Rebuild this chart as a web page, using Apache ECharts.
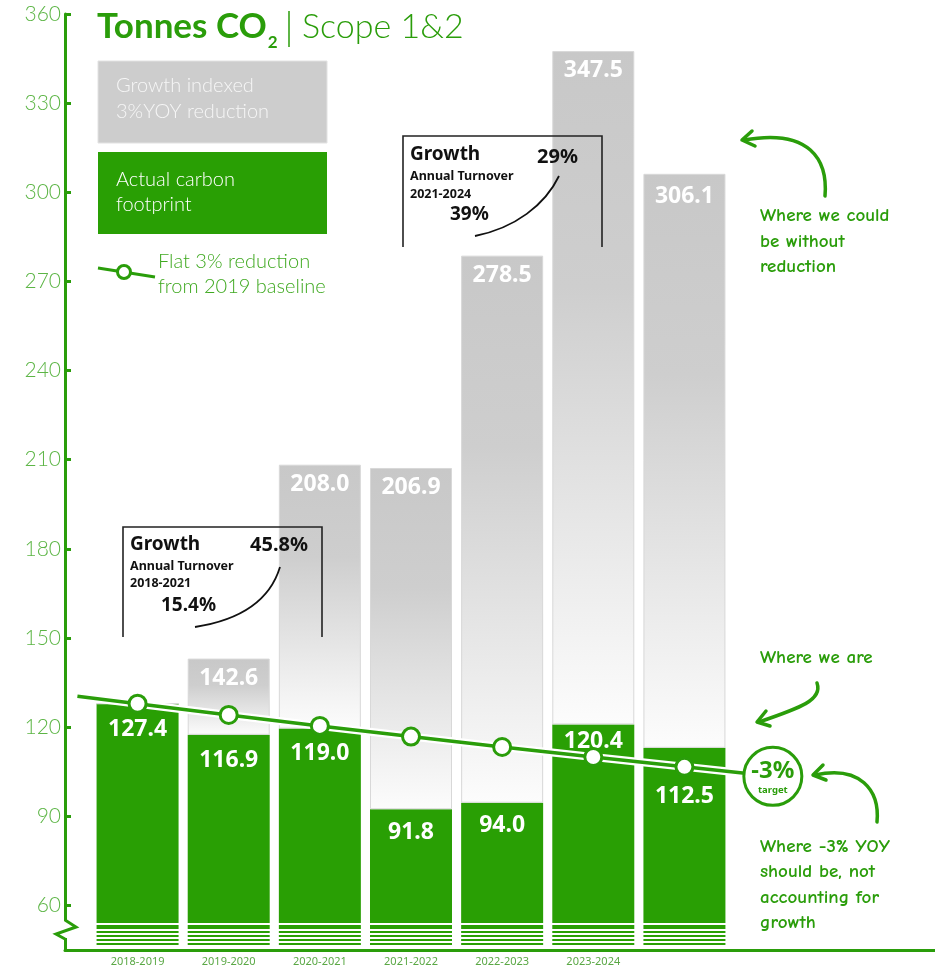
<!DOCTYPE html>
<html><head><meta charset="utf-8">
<script src="https://cdn.jsdelivr.net/npm/echarts@6/dist/echarts.min.js"></script>
<style>html,body{margin:0;padding:0;background:#fff}#c{width:935px;height:967px}</style>
</head><body><div id="c"></div>
<script>
// ---- data ----
const categories = ['2018-2019','2019-2020','2020-2021','2021-2022','2022-2023','2023-2024',''];
const actual = [127.4, 116.9, 119.0, 91.8, 94.0, 120.4, 112.5];
const growthIndexed = [127.4, 142.6, 208.0, 206.9, 278.5, 347.5, 306.1];
const flatReduction = [127.4, 123.6, 119.9, 116.3, 112.8, 109.4, 106.1];
const yTicks = [60, 90, 120, 150, 180, 210, 240, 270, 300, 330, 360];

// ---- styles ----
const G = '#2a9d0a';
const BAR = '#299f04';
const LIGHT = '#5cb545';
const greenLabelGap = [14, 14, 13, 12, 11, 6, 37];
const grayLabelGap = [8, 8, 8, 8, 8, 8, 11];

const chart = echarts.init(document.getElementById('c'), null, {renderer: 'canvas'});

const numFont = {color: '#fff', fontFamily: 'Noto Sans', fontWeight: 'bold', fontSize: 23};

const option = {
  animation: false,
  backgroundColor: '#fff',
  grid: [
    {left: 65, right: 0, top: 14, height: 936},
    {left: 92, width: 638, top: 14, height: 936}
  ],
  xAxis: [
    {gridIndex: 0, type: 'value', min: 0, max: 1,
     axisLine: {show: true, onZero: false, lineStyle: {color: G, width: 3}},
     axisTick: {show: false}, axisLabel: {show: false}, splitLine: {show: false}},
    {gridIndex: 1, type: 'category', data: categories,
     axisLine: {show: false}, axisTick: {show: false},
     axisLabel: {color: '#5aa845', fontSize: 11, fontFamily: 'Noto Sans', margin: 8}}
  ],
  yAxis: [
    {gridIndex: 0, type: 'value', min: 45, max: 360,
     axisLine: {show: true, onZero: false, lineStyle: {color: G, width: 3}},
     axisTick: {show: true, inside: true, length: 6, customValues: yTicks, lineStyle: {color: G, width: 3}},
     axisLabel: {customValues: yTicks, color: LIGHT, fontSize: 21, fontFamily: 'Lato', fontWeight: 300, margin: 4},
     splitLine: {show: false}},
    {gridIndex: 1, type: 'value', min: 45, max: 360, show: false, splitLine: {show: false}}
  ],
  series: [
    {
      name: 'Actual carbon footprint', type: 'bar', xAxisIndex: 1, yAxisIndex: 1,
      stack: 'a', barWidth: 82, z: 2,
      itemStyle: {color: BAR},
      data: actual.map((v, i) => ({value: v, label: {distance: greenLabelGap[i]}})),
      label: Object.assign({show: true, position: 'insideTop', formatter: p => p.value.toFixed(1)}, numFont)
    },
    {
      name: 'Growth indexed 3%YOY reduction', type: 'bar', xAxisIndex: 1, yAxisIndex: 1,
      stack: 'a', barWidth: 82, z: 2,
      itemStyle: {
        borderColor: '#d8d8d8', borderWidth: 1,
        color: {type: 'linear', x: 0, y: 0, x2: 0, y2: 1,
          colorStops: [{offset: 0, color: '#c8c8c8'}, {offset: 0.35, color: '#cecece'}, {offset: 1, color: '#fcfcfc'}]}
      },
      data: growthIndexed.map((v, i) => ({value: +(v - actual[i]).toFixed(1), label: {distance: grayLabelGap[i]}})),
      label: Object.assign({show: true, position: 'insideTop',
        formatter: p => (growthIndexed[p.dataIndex] > actual[p.dataIndex] ? growthIndexed[p.dataIndex].toFixed(1) : '')}, numFont)
    },
    {
      name: 'halo', type: 'line', xAxisIndex: 1, yAxisIndex: 1, z: 3, silent: true,
      data: flatReduction, symbol: 'none', lineStyle: {color: '#fff', width: 8}
    },
    {
      name: 'Flat 3% reduction from 2019 baseline', type: 'line', xAxisIndex: 1, yAxisIndex: 1, z: 5,
      data: flatReduction, symbol: 'circle', symbolSize: 17,
      lineStyle: {color: G, width: 3.5},
      itemStyle: {color: '#fff', borderColor: G, borderWidth: 3}
    }
  ]
};
chart.setOption(option);

// ---- decorations (annotations, legend, title) ----
const txt = (x, y, text, font, fill, extra) => ({
  type: 'text', z: 31,
  style: Object.assign({x, y, text, font, fill, textVerticalAlign: 'middle', textAlign: 'left'}, extra || {})
});
const hand = 'bold 19px "Comic Neue"';
const g = [];
// title
const mctx = document.createElement('canvas').getContext('2d');
mctx.font = 'bold 35px Lato';
const titleW = mctx.measureText('Tonnes CO').width;
g.push(txt(97, 27, 'Tonnes CO', 'bold 35px Lato', G));
g.push(txt(97 + titleW + 1, 43, '2', 'bold 17px Lato', G));
g.push({type: 'line', z: 20, shape: {x1: 289, y1: 11, x2: 289, y2: 47}, style: {stroke: G, lineWidth: 1.5}});
g.push(txt(302, 27, 'Scope 1&2', '300 34px Lato', G));
// legend
g.push({type: 'rect', z: 20, shape: {x: 98, y: 61, width: 229, height: 82}, style: {fill: '#cdcdcd', stroke: '#e2e2e2', lineWidth: 1}});
g.push(txt(116, 86, 'Growth indexed', '300 20px Lato', '#f6f6f6'));
g.push(txt(116, 112, '3%YOY reduction', '300 20px Lato', '#f6f6f6'));
g.push({type: 'rect', z: 20, shape: {x: 98, y: 152, width: 229, height: 82}, style: {fill: BAR}});
g.push(txt(116, 180, 'Actual carbon', '300 20px Lato', '#fff'));
g.push(txt(116, 205, 'footprint', '300 20px Lato', '#fff'));
g.push({type: 'line', z: 20, shape: {x1: 98, y1: 268, x2: 155, y2: 277}, style: {stroke: G, lineWidth: 3}});
g.push({type: 'circle', z: 21, shape: {cx: 124, cy: 272, r: 6.5}, style: {fill: '#fff', stroke: G, lineWidth: 3}});
g.push(txt(158, 262, 'Flat 3% reduction', '300 20px Lato', '#3fa920'));
g.push(txt(158, 287, 'from 2019 baseline', '300 20px Lato', '#3fa920'));
// growth box 1
g.push({type: 'polyline', z: 20, shape: {points: [[123, 637], [123, 527], [322, 527], [322, 637]]}, style: {stroke: '#222', lineWidth: 1.6, fill: null}});
g.push(txt(130, 545, 'Growth', 'bold 19px "Noto Sans"', '#111'));
g.push(txt(308, 545, '45.8%', 'bold 20px "Noto Sans"', '#111', {textAlign: 'right'}));
g.push(txt(130, 566, 'Annual Turnover', 'bold 12.5px "Noto Sans"', '#111'));
g.push(txt(130, 583, '2018-2021', 'bold 12.5px "Noto Sans"', '#111'));
g.push(txt(161, 606, '15.4%', 'bold 19px "Noto Sans"', '#111'));
g.push({type: 'bezierCurve', z: 20, shape: {x1: 195, y1: 627, cpx1: 240, cpy1: 620, cpx2: 270, cpy2: 600, x2: 280, y2: 567}, style: {stroke: '#111', lineWidth: 1.8, fill: null}});
// growth box 2
g.push({type: 'polyline', z: 20, shape: {points: [[403, 247], [403, 136], [602, 136], [602, 247]]}, style: {stroke: '#222', lineWidth: 1.6, fill: null}});
g.push(txt(410, 155, 'Growth', 'bold 19px "Noto Sans"', '#111'));
g.push(txt(578, 157, '29%', 'bold 20px "Noto Sans"', '#111', {textAlign: 'right'}));
g.push(txt(410, 176, 'Annual Turnover', 'bold 12.5px "Noto Sans"', '#111'));
g.push(txt(410, 194, '2021-2024', 'bold 12.5px "Noto Sans"', '#111'));
g.push(txt(450, 215, '39%', 'bold 19px "Noto Sans"', '#111'));
g.push({type: 'bezierCurve', z: 20, shape: {x1: 475, y1: 236, cpx1: 515, cpy1: 228, cpx2: 545, cpy2: 205, x2: 559, y2: 176}, style: {stroke: '#111', lineWidth: 1.8, fill: null}});
// right-hand notes
g.push(txt(760, 216, 'Where we could', hand, G));
g.push(txt(760, 242, 'be without', hand, G));
g.push(txt(760, 267, 'reduction', hand, G));
g.push({type: 'bezierCurve', z: 20, shape: {x1: 825, y1: 196, cpx1: 828, cpy1: 160, cpx2: 810, cpy2: 128, x2: 744, y2: 140}, style: {stroke: G, lineWidth: 3.5, fill: null, lineCap: 'round'}});
g.push({type: 'polyline', z: 20, shape: {points: [[752, 131], [742, 140], [755, 146]]}, style: {stroke: G, lineWidth: 3.5, fill: null, lineCap: 'round', lineJoin: 'round'}});
g.push(txt(760, 658, 'Where we are', hand, G));
g.push({type: 'bezierCurve', z: 20, shape: {x1: 817, y1: 683, cpx1: 823, cpy1: 700, cpx2: 800, cpy2: 708, x2: 759, y2: 722}, style: {stroke: G, lineWidth: 3.5, fill: null, lineCap: 'round'}});
g.push({type: 'polyline', z: 20, shape: {points: [[766, 711], [757, 722], [770, 726]]}, style: {stroke: G, lineWidth: 3.5, fill: null, lineCap: 'round', lineJoin: 'round'}});
g.push({type: 'bezierCurve', z: 20, shape: {x1: 877, y1: 822, cpx1: 880, cpy1: 790, cpx2: 860, cpy2: 765, x2: 815, y2: 775}, style: {stroke: G, lineWidth: 3.5, fill: null, lineCap: 'round'}});
g.push({type: 'polyline', z: 20, shape: {points: [[823, 765], [813, 775], [826, 780]]}, style: {stroke: G, lineWidth: 3.5, fill: null, lineCap: 'round', lineJoin: 'round'}});
g.push(txt(760, 847, 'Where -3% YOY', hand, G));
g.push(txt(760, 872, 'should be, not', hand, G));
g.push(txt(760, 898, 'accounting for', hand, G));
g.push(txt(760, 923, 'growth', hand, G));
// broken-bar stripes at the bottom
[[923, 2], [929, 2], [933, 2], [937, 2], [941, 2], [945, 3.5]].forEach(([y, h]) => {
  g.push({type: 'rect', z: 20, shape: {x: 90, y, width: 642, height: h}, style: {fill: '#fff'}});
});
// axis break zigzag
g.push({type: 'rect', z: 20, shape: {x: 60, y: 921, width: 10, height: 17}, style: {fill: '#fff'}});
g.push({type: 'polyline', z: 21, shape: {points: [[65, 920], [76, 927], [56, 934], [65, 939]]}, style: {stroke: G, lineWidth: 3, fill: null, lineJoin: 'miter'}});

// trend line extensions and target marker, positioned through the chart's scales
const px = i => chart.convertToPixel({seriesIndex: 3}, [i, flatReduction[i]]);
const n = flatReduction.length;
const a0 = px(0), a1 = px(1), b0 = px(n - 2), b1 = px(n - 1);
const start = [a0[0] - 0.66 * (a1[0] - a0[0]), a0[1] - 0.66 * (a1[1] - a0[1])];
const tgt = [b1[0] + 0.97 * (b1[0] - b0[0]), b1[1] + 0.97 * (b1[1] - b0[1])];
[[start, a0], [b1, tgt]].forEach(([p, q]) => {
  g.push({type: 'line', z: 3, shape: {x1: p[0], y1: p[1], x2: q[0], y2: q[1]}, style: {stroke: '#fff', lineWidth: 8}});
  g.push({type: 'line', z: 4, shape: {x1: p[0], y1: p[1], x2: q[0], y2: q[1]}, style: {stroke: G, lineWidth: 3.5}});
});
g.push({type: 'circle', z: 30, shape: {cx: tgt[0], cy: tgt[1], r: 29}, style: {fill: '#fff', stroke: G, lineWidth: 3}});
g.push(txt(tgt[0], tgt[1] - 5, '-3%', 'bold 24px "Noto Sans"', G, {textAlign: 'center'}));
g.push(txt(tgt[0], tgt[1] + 14, 'target', 'bold 9.5px "Noto Sans"', G, {textAlign: 'center'}));

chart.setOption({graphic: {elements: g}});
</script></body></html>
